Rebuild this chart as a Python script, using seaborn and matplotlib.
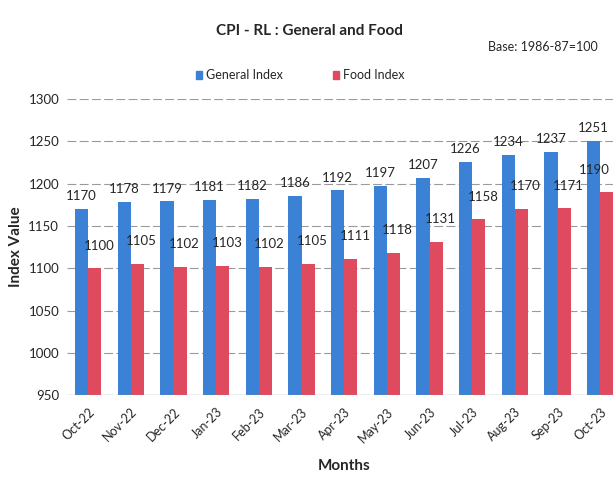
import pandas as pd
import seaborn as sns
import matplotlib.pyplot as plt

months = ['Oct-22', 'Nov-22', 'Dec-22', 'Jan-23', 'Feb-23', 'Mar-23', 'Apr-23',
          'May-23', 'Jun-23', 'Jul-23', 'Aug-23', 'Sep-23', 'Oct-23']
general = [1170, 1178, 1179, 1181, 1182, 1186, 1192, 1197, 1207, 1226, 1234, 1237, 1251]
food = [1100, 1105, 1102, 1103, 1102, 1105, 1111, 1118, 1131, 1158, 1170, 1171, 1190]

df = pd.DataFrame({'Month': months * 2,
                   'Value': general + food,
                   'Series': ['General Index'] * len(months) + ['Food Index'] * len(months)})

sns.set_style("white")
plt.rcParams['font.family'] = ['Lato', 'DejaVu Sans']

fig = plt.figure(figsize=(6.13, 4.79), dpi=100)
ax = fig.add_axes([0.109, 0.175, 0.905, 0.618])

sns.barplot(data=df, x='Month', y='Value', hue='Series', order=months,
            palette={'General Index': '#3b82d6', 'Food Index': '#e04a5f'},
            width=0.62, saturation=1, linewidth=0, ax=ax, legend=False)

ax.set_ylim(950, 1300)
ax.set_yticks(range(950, 1301, 50))
ax.yaxis.grid(True, color='#9a9a9a', linewidth=0.8, linestyle=(0, (8, 3)))
ax.set_axisbelow(True)
for s in ax.spines.values():
    s.set_visible(False)
ax.axhline(950, color='#9a9a9a', linewidth=0.9)

ax.bar_label(ax.containers[0], padding=5, fontsize=9.5)
food_labels = ax.bar_label(ax.containers[1], padding=12, fontsize=9.5)
# food labels sit a little right of the bar (offsets in points)
for t in food_labels[:-1]:
    dx, dy = t.xyann
    t.xyann = (dx + 3, dy)
dx, dy = food_labels[-1].xyann
food_labels[-1].xyann = (dx - 9, dy)

ax.set_xticks(range(len(months)))
ax.set_xticklabels(months, rotation=45, ha='right', rotation_mode='anchor', fontsize=9)
ax.tick_params(axis='y', labelsize=9.5, pad=2)
ax.tick_params(axis='x', pad=4)
ax.set_xlabel('Months', fontsize=11, fontweight='bold', labelpad=10)
ax.set_ylabel('Index Value', fontsize=11, fontweight='bold', labelpad=4)

fig.text(0.505, 0.935, 'CPI - RL : General and Food', ha='center', va='center',
         fontsize=11, fontweight='bold')
fig.text(0.885, 0.902, 'Base: 1986-87=100', ha='center', va='center', fontsize=9)

handles = [plt.Rectangle((0, 0), 1, 1, color='#3b82d6'),
           plt.Rectangle((0, 0), 1, 1, color='#e04a5f')]
fig.legend(handles, ['General Index', 'Food Index'], loc='center',
           bbox_to_anchor=(0.49, 0.843), ncol=2, frameon=False, fontsize=9,
           handlelength=0.5, handleheight=0.6, columnspacing=4, handletextpad=0.3)

fig.savefig('out.png', dpi=100)
